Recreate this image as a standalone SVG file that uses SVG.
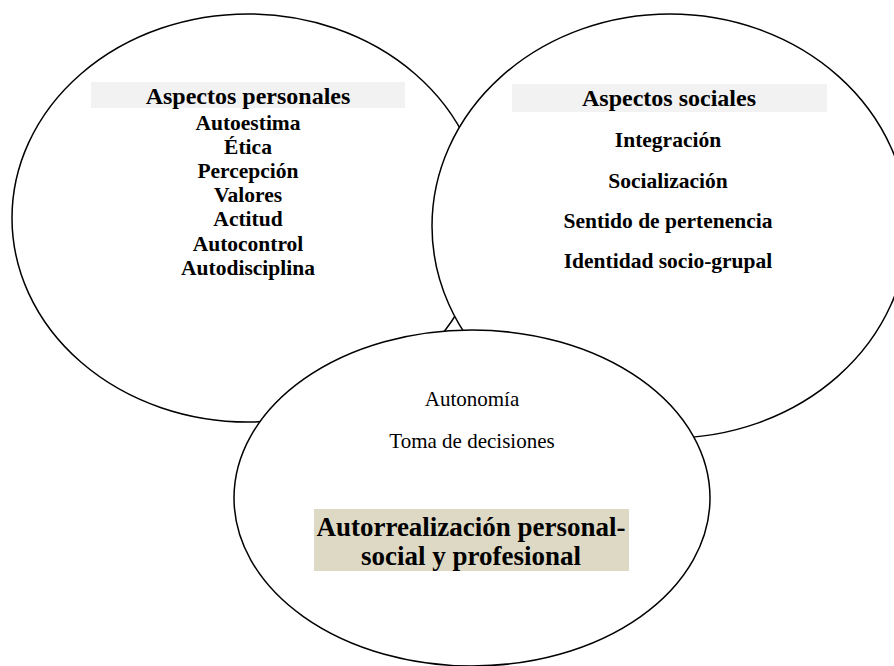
<svg xmlns="http://www.w3.org/2000/svg" width="894" height="666" viewBox="0 0 894 666">
  <style>
    .shape { fill: #ffffff; stroke: #000000; stroke-width: 1.5; }
    .hdr { font-family: "Liberation Serif", "Times New Roman", serif; font-weight: bold; font-size: 24px; fill: #000; text-anchor: middle; }
    .item { font-family: "Liberation Serif", "Times New Roman", serif; font-weight: bold; font-size: 21.5px; fill: #000; text-anchor: middle; }
    .reg { font-family: "Liberation Serif", "Times New Roman", serif; font-size: 21px; fill: #000; text-anchor: middle; }
    .big { font-family: "Liberation Serif", "Times New Roman", serif; font-weight: bold; font-size: 27px; fill: #000; text-anchor: middle; }
    .grey { fill: #f2f2f2; }
    .tan { fill: #ddd9c4; }
  </style>
  <rect x="0" y="0" width="894" height="666" fill="#ffffff"/>
  <g id="personal">
    <ellipse class="shape" cx="248" cy="218" rx="236" ry="204"/>
    <rect class="grey" x="91" y="82" width="314" height="26"/>
    <text class="hdr" x="248" y="104">Aspectos personales</text>
    <text class="item" x="248" y="129.5">Autoestima</text>
    <text class="item" x="248" y="153.5">Ética</text>
    <text class="item" x="248" y="177.5">Percepción</text>
    <text class="item" x="248" y="201.5">Valores</text>
    <text class="item" x="248" y="226">Actitud</text>
    <text class="item" x="248" y="250.5">Autocontrol</text>
    <text class="item" x="248" y="275">Autodisciplina</text>
  </g>
  <g id="social">
    <ellipse class="shape" cx="670" cy="226" rx="238" ry="212"/>
    <rect class="grey" x="512" y="84" width="315" height="28"/>
    <text class="hdr" x="669" y="106">Aspectos sociales</text>
    <text class="item" x="668" y="147">Integración</text>
    <text class="item" x="668" y="187.5">Socialización</text>
    <text class="item" x="668" y="228">Sentido de pertenencia</text>
    <text class="item" x="668" y="268">Identidad socio-grupal</text>
  </g>
  <g id="autorrealizacion">
    <ellipse class="shape" cx="472" cy="498" rx="238" ry="168"/>
    <text class="reg" x="472" y="406">Autonomía</text>
    <text class="reg" x="472" y="448">Toma de decisiones</text>
    <rect class="tan" x="314" y="509" width="315" height="62"/>
    <text class="big" x="471" y="536">Autorrealización personal-</text>
    <text class="big" x="471" y="565">social y profesional</text>
  </g>
  <g id="connectors"/>
</svg>
